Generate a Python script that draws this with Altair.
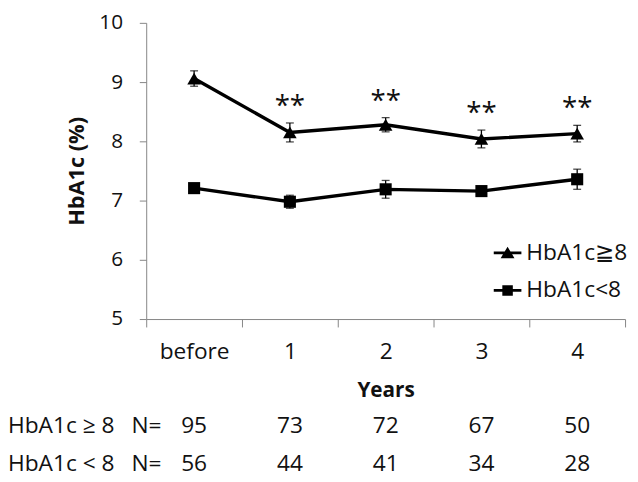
import json
import altair as alt
import pandas as pd

# ---------------- data ----------------
categories = ["before", "1", "2", "3", "4"]
series_names = ["HbA1c≧8", "HbA1c<8"]
high_mean = [9.06, 8.15, 8.28, 8.04, 8.13]
high_err = [0.13, 0.16, 0.12, 0.15, 0.14]
low_mean = [7.21, 6.98, 7.19, 7.16, 7.36]
low_err = [0.04, 0.11, 0.15, 0.07, 0.17]
high_significant = [False, True, True, True, True]
star_text = "**"

row_labels = ["HbA1c ≥ 8", "HbA1c < 8"]
n_prefix = "N="
n_high = [95, 73, 72, 67, 50]
n_low = [56, 44, 41, 34, 28]

y_ticks = [5, 6, 7, 8, 9, 10]
x_title = "Years"
y_title = "HbA1c (%)"

FONT = "Open Sans"
AXIS_COLOR = "#858585"
TEXT_COLOR = "#111111"

PLOT_W, PLOT_H = 485, 300
PAD_TOP = 12

# ---------------- tables ----------------
rows = []
for i, c in enumerate(categories):
    for s, m, e in ((series_names[0], high_mean[i], high_err[i]),
                    (series_names[1], low_mean[i], low_err[i])):
        rows.append({"cat": c, "xpos": i + 0.5, "series": s, "mean": m,
                     "lower": m - e, "upper": m + e,
                     "star": star_text if (s == series_names[0] and high_significant[i]) else ""})
df = pd.DataFrame(rows)

trows = []
for r, counts in zip(row_labels, (n_high, n_low)):
    for i, n in enumerate(counts):
        trows.append({"row": r, "xpos": i + 0.5, "n": n})
df_table = pd.DataFrame(trows)
df_rowlab = pd.DataFrame({"row": row_labels, "label": row_labels, "prefix": [n_prefix] * len(row_labels)})
df_legend = pd.DataFrame({"series": series_names})

# ---------------- encodings ----------------
n_cat = len(categories)
label_expr = ("datum.value % 1 === 0 ? '' : " + json.dumps(categories, ensure_ascii=False)
              + "[floor(datum.value)]")
x_values = [k / 2 for k in range(2 * n_cat + 1)]

X_AXIS = alt.Axis(
    values=x_values, labelExpr=label_expr, title=x_title, grid=False,
    tickSize=8, tickColor=AXIS_COLOR, domainColor=AXIS_COLOR,
    tickOpacity={"condition": {"test": "datum.value % 1 === 0", "value": 1}, "value": 0},
    labelPadding=14, labelFont=FONT, labelFontSize=23, labelColor=TEXT_COLOR,
    labelOverlap=False, labelFlush=False, labelBound=False,
    titleFont=FONT, titleFontSize=21, titleFontWeight="bold", titleColor=TEXT_COLOR,
    titlePadding=16,
)


def X():
    return alt.X("xpos:Q", scale=alt.Scale(domain=[0, n_cat], nice=False, zero=False), axis=X_AXIS)


Y_AXIS = alt.Axis(
    values=y_ticks, title=y_title, grid=False, tickSize=7,
    tickColor=AXIS_COLOR, domainColor=AXIS_COLOR,
    labelPadding=17, labelFont=FONT, labelFontSize=21, labelColor=TEXT_COLOR,
    titleFont=FONT, titleFontSize=22, titleFontWeight="bold", titleColor=TEXT_COLOR,
    titleAngle=-90, titleX=-71, titleY=PLOT_H / 2, titleAlign="center", titleBaseline="middle",
)


def Y(field):
    return alt.Y(f"{field}:Q", scale=alt.Scale(domain=[y_ticks[0], y_ticks[-1]], nice=False, zero=False),
                 axis=Y_AXIS, title=y_title)


base = alt.Chart(df)

line = base.mark_line(color="black", strokeWidth=3.4).encode(x=X(), y=Y("mean"), detail="series:N")
err = base.mark_rule(color="black", strokeWidth=1.3).encode(x=X(), y=Y("lower"), y2="upper:Q")
caps = base.transform_fold(["lower", "upper"], as_=["bound", "yv"]).mark_tick(
    orient="horizontal", size=8, thickness=1.3, color="black").encode(x=X(), y=Y("yv"))
points = base.mark_point(filled=True, color="black", opacity=1).encode(
    x=X(), y=Y("mean"),
    shape=alt.Shape("series:N", scale=alt.Scale(domain=series_names, range=["triangle-up", "square"]), legend=None),
    size=alt.Size("series:N", scale=alt.Scale(domain=series_names, range=[190, 150]), legend=None),
)
stars = base.transform_filter("datum.star != ''").mark_text(
    font=FONT, fontSize=28, color=TEXT_COLOR, baseline="alphabetic", dy=-8
).encode(x=X(), y=Y("upper"), text="star:N")

plot = alt.layer(line, err, caps, points, stars)

ROW_Y = alt.Y("row:N", scale=alt.Scale(type="point", domain=row_labels,
                                        range=[435 - 8 - PAD_TOP, 474 - 8 - PAD_TOP], padding=0), axis=None)
t_vals = alt.Chart(df_table).mark_text(font=FONT, fontSize=23, color=TEXT_COLOR, baseline="alphabetic").encode(
    x=X(), y=ROW_Y, text="n:Q")
t_labels = alt.Chart(df_rowlab).mark_text(font=FONT, fontSize=23, color=TEXT_COLOR, baseline="alphabetic",
                                          align="left").encode(x=alt.value(-140), y=ROW_Y, text="label:N")
t_prefix = alt.Chart(df_rowlab).mark_text(font=FONT, fontSize=23, color=TEXT_COLOR, baseline="alphabetic",
                                          align="left").encode(x=alt.value(-15), y=ROW_Y, text="prefix:N")
table = alt.layer(t_vals, t_labels, t_prefix)

# legend symbols: a short line with the marker on it (filled shapes only)
tri_path = "M-1,-0.1L1,-0.1L1,0.1L-1,0.1Z M0,-0.45L0.5,0.38L-0.5,0.38Z"
sq_path = "M-1,-0.1L1,-0.1L1,0.1L-1,0.1Z M-0.38,-0.38L0.38,-0.38L0.38,0.38L-0.38,0.38Z"
legend_layer = alt.Chart(df_legend).transform_filter("false").mark_point(
    filled=True, color="black", opacity=1
).encode(
    shape=alt.Shape("series:N", scale=alt.Scale(domain=series_names, range=[tri_path, sq_path]),
                    legend=alt.Legend(title=None, orient="none", legendX=352, legendY=219,
                                      symbolSize=784, symbolStrokeWidth=0,
                                      symbolFillColor="black", symbolOpacity=1,
                                      labelFont=FONT, labelFontSize=23, labelColor=TEXT_COLOR,
                                      labelOffset=5, rowPadding=12, padding=0))
)

chart = alt.layer(plot, table, legend_layer).resolve_scale(
    y="independent", shape="independent"
).properties(
    width=PLOT_W, height=PLOT_H,
    padding={"left": 140, "top": PAD_TOP, "right": 5, "bottom": 474 - PAD_TOP - PLOT_H},
    autosize=alt.AutoSizeParams(type="none"),
).configure_view(stroke=None)

chart.save("out.html", embed_options={"renderer": "svg", "actions": False})
